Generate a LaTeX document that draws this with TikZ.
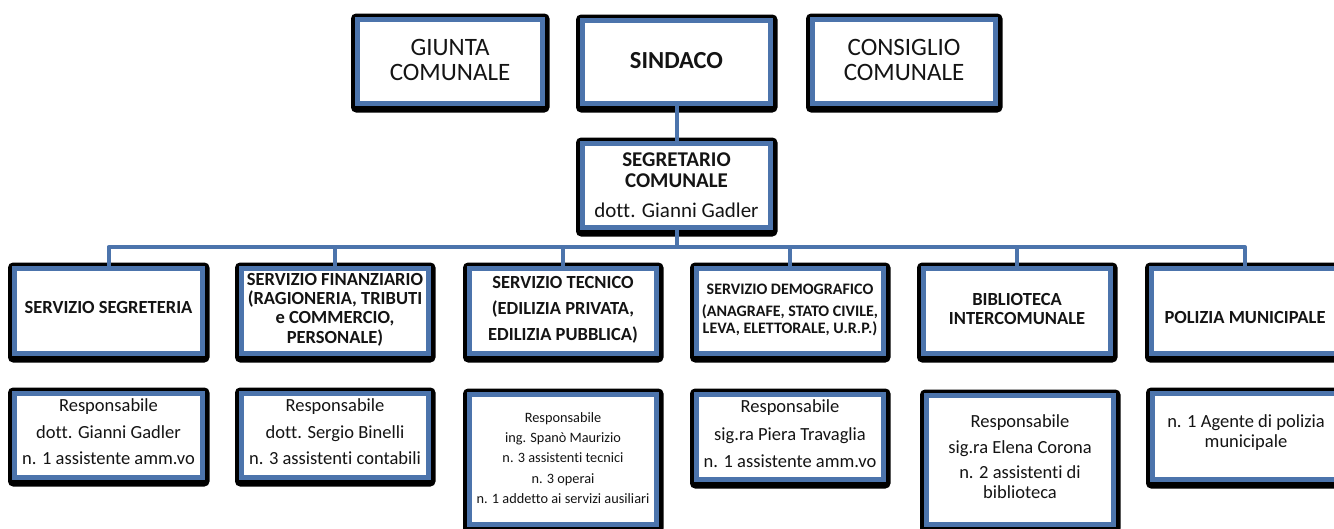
\documentclass[tikz,border=0pt]{standalone}
\usepackage{fontspec}
\setmainfont{Carlito}[Ligatures=NoCommon]
\definecolor{bblue}{RGB}{76,116,172}
\definecolor{ink}{RGB}{20,20,20}
\tikzset{
  box/.style={draw=bblue, line width=5pt, fill=white, inner sep=0pt, outer sep=0pt},
  shadowfill/.style={fill=black, rounded corners=5pt},
  conn/.style={draw=bblue, line width=4pt},
  txt/.style={align=center, inner sep=0pt, text=ink},
}
\newcommand\obox[5]{%
  \fill[shadowfill] ({#2-4},{#3-3.5}) rectangle ({#4+4.5},{#5+6.5});
  \node[box, minimum width={#4-#2-5}, minimum height={#5-#3-5}] (#1) at ({(#2+#4)/2},{(#3+#5)/2}) {};
}
\newcommand\fs[2]{\fontsize{#1}{#2}\selectfont}
\begin{document}
\begin{tikzpicture}[x=1pt,y=-1pt]
\useasboundingbox (0,0) rectangle (1334,528);
\clip (0,0) rectangle (1334,528);
% top row
\obox{giunta}{355}{17}{545}{106}
\obox{sind}{580}{18}{773}{106}
\obox{cons}{810}{17}{998}{106}
\obox{seg}{580}{141}{773}{230}
% row 2
\obox{r21}{12}{266}{205}{356}
\obox{r22}{239}{266}{431}{356}
\obox{r23}{467}{266}{659}{356}
\obox{r24}{694}{266}{886}{356}
\obox{r25}{921}{266}{1113}{356}
\obox{r26}{1149}{266}{1341}{356}
% row 3
\obox{r31}{12}{391}{205}{480}
\obox{r32}{239}{391}{431}{480}
\obox{r33}{467}{392}{659}{527}
\obox{r34}{694}{392}{886}{482}
\obox{r35}{924}{393}{1116}{527}
\obox{r36}{1150}{391}{1342}{482}
% connectors
\coordinate (bus) at (0,247);
\draw[conn] (sind.south) -- (seg.north);
\foreach \n in {r21,r22,r23,r24,r25,r26}
  \draw[conn, line join=round] (seg.south) -- (seg.south |- bus) -| (\n.north);
% texts
\node[txt, font=\fs{25}{25}] (tgiunta) at (450,59.5) {GIUNTA\\COMUNALE};
\node[txt, font=\fs{24.5}{26}\bfseries] (tsind) at (676.5,61) {SINDACO};
\node[txt, font=\fs{25}{25}] (tcons) at (904,59.5) {CONSIGLIO\\COMUNALE};
\node[txt, font=\fs{21}{21}] (tseg) at (676.5,184.7) {\textbf{SEGRETARIO}\\\textbf{COMUNALE}\\[9pt]dott. Gianni Gadler};
\node[txt, font=\fs{18.5}{19.3}\bfseries] (t21) at (108.5,307.2) {SERVIZIO SEGRETERIA};
\node[txt, font=\fs{18.5}{19.3}\bfseries] (t22) at (335,309.4) {SERVIZIO FINANZIARIO\\(RAGIONERIA, TRIBUTI\\e COMMERCIO,\\PERSONALE)};
\node[txt, font=\fs{18.5}{26}\bfseries] (t23) at (563,309.4) {SERVIZIO TECNICO\\(EDILIZIA PRIVATA,\\EDILIZIA PUBBLICA)};
\node[txt, font=\fs{16}{17}\bfseries] (t24) at (790,310.4) {SERVIZIO DEMOGRAFICO\\[5pt](ANAGRAFE, STATO CIVILE,\\LEVA, ELETTORALE, U.R.P.)};
\node[txt, font=\fs{18.5}{19}\bfseries] (t25) at (1017,308.7) {BIBLIOTECA\\INTERCOMUNALE};
\node[txt, font=\fs{18.5}{19}\bfseries] (t26) at (1245,317.2) {POLIZIA MUNICIPALE};
\node[txt, font=\fs{18.5}{26.5}] (t31) at (108.5,432) {Responsabile\\dott. Gianni Gadler\\n. 1 assistente amm.vo};
\node[txt, font=\fs{18.5}{26.5}] (t32) at (335,432) {Responsabile\\dott. Sergio Binelli\\n. 3 assistenti contabili};
\node[txt, font=\fs{14.3}{20.2}] (t33) at (563,457.9) {Responsabile\\ing. Spanò Maurizio\\n. 3 assistenti tecnici\\n. 3 operai\\n. 1 addetto ai servizi ausiliari};
\node[txt, font=\fs{18.5}{27.5}] (t34) at (790,434.1) {Responsabile\\sig.ra Piera Travaglia\\n. 1 assistente amm.vo};
\node[txt, font=\fs{18.5}{20}] (t35) at (1020,456.6) {Responsabile\\[6.5pt]sig.ra Elena Corona\\[5pt]n. 2 assistenti di\\biblioteca};
\node[txt, font=\fs{18.5}{20}] (t36) at (1246,432.5) {n. 1 Agente di polizia\\municipale};
\end{tikzpicture}
\end{document}
